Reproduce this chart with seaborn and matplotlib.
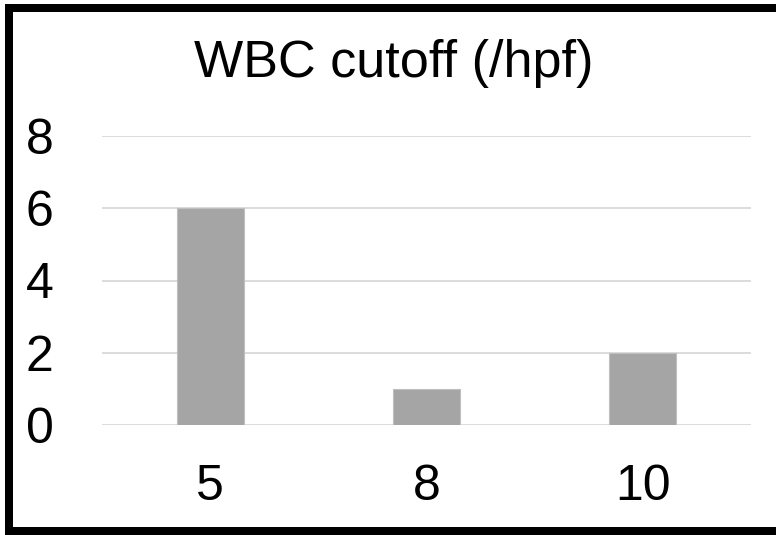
import matplotlib
matplotlib.use("Agg")
import matplotlib.pyplot as plt
from matplotlib.lines import Line2D
import seaborn as sns
import pandas as pd

categories = ["5", "8", "10"]
values = [6, 1, 2]
title = "WBC cutoff (/hpf)"
yticks = [0, 2, 4, 6, 8]

sns.set_style("white")
plt.rcParams["font.family"] = ["Liberation Sans", "DejaVu Sans"]
plt.rcParams["text.color"] = "black"
plt.rcParams["xtick.color"] = "black"
plt.rcParams["ytick.color"] = "black"

W, H = 776, 535
fig = plt.figure(figsize=(W / 100, H / 100), dpi=100)
ax = fig.add_axes([102 / W, 1 - 425 / H, (751 - 102) / W, (425 - 136) / H])

df = pd.DataFrame({"cat": categories, "val": values})
sns.barplot(data=df, x="cat", y="val", ax=ax, color="#a5a5a5", width=0.31,
            edgecolor="#bfbfbf", linewidth=0.8, saturation=1, zorder=3)

ax.set_ylim(0, 8)
ax.set_xlim(-0.5, 2.5)
ax.set_yticks(yticks)
ax.set_yticklabels([str(t) for t in yticks])
ax.yaxis.grid(True, color="#d9d9d9", linewidth=1.3, zorder=0)
ax.set_axisbelow(True)
for s in ax.spines.values():
    s.set_visible(False)
ax.set_xlabel("")
ax.set_ylabel("")
ax.tick_params(axis="y", length=0, labelsize=36, pad=35, labelcolor="black")
ax.tick_params(axis="x", length=0, labelsize=36, pad=28, labelcolor="black")

fig.text(394 / W, 1 - 77 / H, title, ha="center", va="baseline", fontsize=37.5,
         color="black")

# outer frame
lw = 8 * 72 / 100
fig.add_artist(Line2D([9 / W, 9 / W], [1 - 7.5 / H, 1 - 531 / H], color="black",
                      linewidth=lw, transform=fig.transFigure, solid_capstyle="projecting"))
fig.add_artist(Line2D([9 / W, 1.02], [1 - 7.5 / H, 1 - 7.5 / H], color="black",
                      linewidth=lw, transform=fig.transFigure, solid_capstyle="projecting"))
fig.add_artist(Line2D([9 / W, 1.02], [1 - 531 / H, 1 - 531 / H], color="black",
                      linewidth=lw, transform=fig.transFigure, solid_capstyle="projecting"))

fig.savefig("out.png", dpi=100)
